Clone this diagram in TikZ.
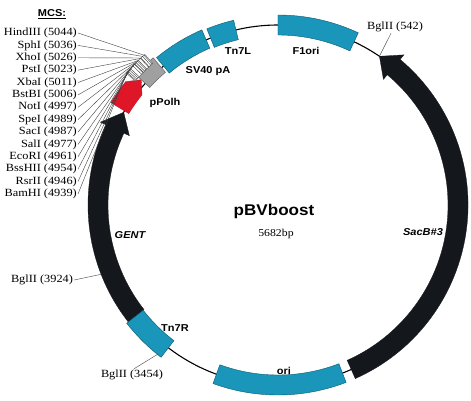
\documentclass[tikz,border=0pt]{standalone}
\usepackage{fontspec}
\newfontfamily\sflbl[FakeStretch=1.1]{Liberation Sans}
\newfontfamily\serlbl[FakeStretch=1.12]{Liberation Serif}
\definecolor{featteal}{RGB}{25,150,185}
\definecolor{featblack}{RGB}{20,24,28}
\definecolor{featred}{RGB}{222,22,40}
\definecolor{featgray}{RGB}{160,160,160}
% ring segment: #1 style, #2 start angle, #3 end angle, #4 inner r, #5 outer r
\newcommand{\ringseg}[5]{%
  \path[#1] (#2:#5pt) arc[start angle=#2, end angle=#3, radius=#5pt]
    -- (#3:#4pt) arc[start angle=#3, end angle=#2, radius=#4pt] -- cycle;}
% ring arrow: #1 style, #2 tail, #3 head base, #4 tip, #5 rin, #6 rout, #7 head rin, #8 head rout, #9 r mid
\newcommand{\ringarrow}[9]{%
  \path[#1] (#2:#6pt) arc[start angle=#2, end angle=#3, radius=#6pt]
    -- (#3:#8pt) -- (#4:#9pt) -- (#3:#7pt) -- (#3:#5pt)
    arc[start angle=#3, end angle=#2, radius=#5pt] -- cycle;}
\begin{document}
\begin{tikzpicture}[x=1pt,y=1pt,
  backbone/.style={line width=1.1pt, black},
  tealbox/.style={fill=featteal, draw=featteal!60!black, line width=0.4pt},
  blackarrow/.style={fill=featblack, draw=featblack, line width=0.3pt},
  redarrow/.style={fill=featred, draw=featred!80!black, line width=0.3pt},
  graybox/.style={fill=featgray, draw=black!60, line width=0.5pt},
  mcsbox/.style={fill=white, draw=black!60, line width=0.5pt},
  featlbl/.style={font=\sflbl\bfseries\fontsize{10}{12}\selectfont, inner sep=0pt},
  italbl/.style={font=\sflbl\bfseries\itshape\fontsize{10}{12}\selectfont, inner sep=0pt},
  sitelbl/.style={font=\serlbl\fontsize{11}{12}\selectfont, inner sep=1pt},
  siteline/.style={line width=0.4pt, black!75},
]
\useasboundingbox (-278,-195) rectangle (193,205);

% backbone
\draw[backbone] (0,0) circle[radius=180pt];

% features
\ringarrow{blackarrow}{-66}{50}{55.7}{170}{190}{164}{196}{180}
\ringarrow{blackarrow}{218}{155}{149}{170}{190}{164}{196}{180}
\ringseg{tealbox}{90}{65}{170}{190}
\ringseg{tealbox}{-69}{-110}{170}{190}
\ringseg{tealbox}{218}{232.5}{171}{192}
\ringseg{tealbox}{129.5}{113.5}{171}{191}
\ringseg{tealbox}{112}{103.5}{170}{190}
\ringarrow{redarrow}{148.5}{141}{137.5}{175}{196}{175}{196}{185.5}
\ringseg{graybox}{137.5}{130.3}{174}{193}
\ringseg{mcsbox}{139}{131.5}{189}{201}

% MCS
\node[font=\sflbl\bfseries\fontsize{10}{12}\selectfont, inner sep=0pt] (mcs) at (-226,191) {\underline{MCS:}};
\foreach \nm/\bp [count=\i] in {HindIII/5044, SphI/5036, XhoI/5026, PstI/5023, XbaI/5011,
    BstBI/5006, NotI/4997, SpeI/4989, SacI/4987, SalI/4977, EcoRI/4961, BssHII/4954,
    RsrII/4946, BamHI/4939} {
  \pgfmathsetmacro\ang{450-\bp/5682*360}
  \pgfmathsetmacro\angb{131.8+(\ang-130.42)*(138.7-131.8)/(137.07-130.42)}
  \node[sitelbl, anchor=east] (m\i) at (-200, {172-12.38*(\i-1)}) {\nm\ (\bp)};
  \draw[siteline] (m\i.east) -- (\angb:201) -- (\angb:189);
}

% feature labels
\node[featlbl] (lsv) at (-70,134) {SV40 pA};
\node[featlbl] (ltn7l) at (-40,154) {Tn7L};
\node[featlbl] (lf1) at (28,154) {F1ori};
\node[featlbl] (lpolh) at (-113,102) {pPolh};
\node[featlbl] (ltn7r) at (-103,-123) {Tn7R};
\node[featlbl] (lori) at (6,-166) {ori};
\node[italbl] (lgent) at (-148,-30) {GENT};
\node[italbl] (lsacb) at (145,-27) {SacB\#3};

% centre
\node[font=\sflbl\bfseries\fontsize{15.5}{18}\selectfont, inner sep=0pt] (title) at (-4,-6) {pBVboost};
\node[font=\serlbl\fontsize{10.5}{12}\selectfont, inner sep=0pt] (size) at (-2,-29) {5682bp};

% BglII sites
\coordinate (s542) at (55.7:180);
\coordinate (s3924) at (201.4:190);
\coordinate (s3454) at (231.2:191);
\node[sitelbl] (b542) at (117,178) {BglII (542)};
\node[sitelbl] (b3924) at (-236,-75) {BglII (3924)};
\node[sitelbl] (b3454) at (-146,-170) {BglII (3454)};
\draw[siteline] ([xshift=-4]b542.south) -- (s542);
\draw[siteline] (b3924.east) -- (s3924);
\draw[siteline] ([xshift=2]b3454.north) -- (s3454);
\end{tikzpicture}
\end{document}
